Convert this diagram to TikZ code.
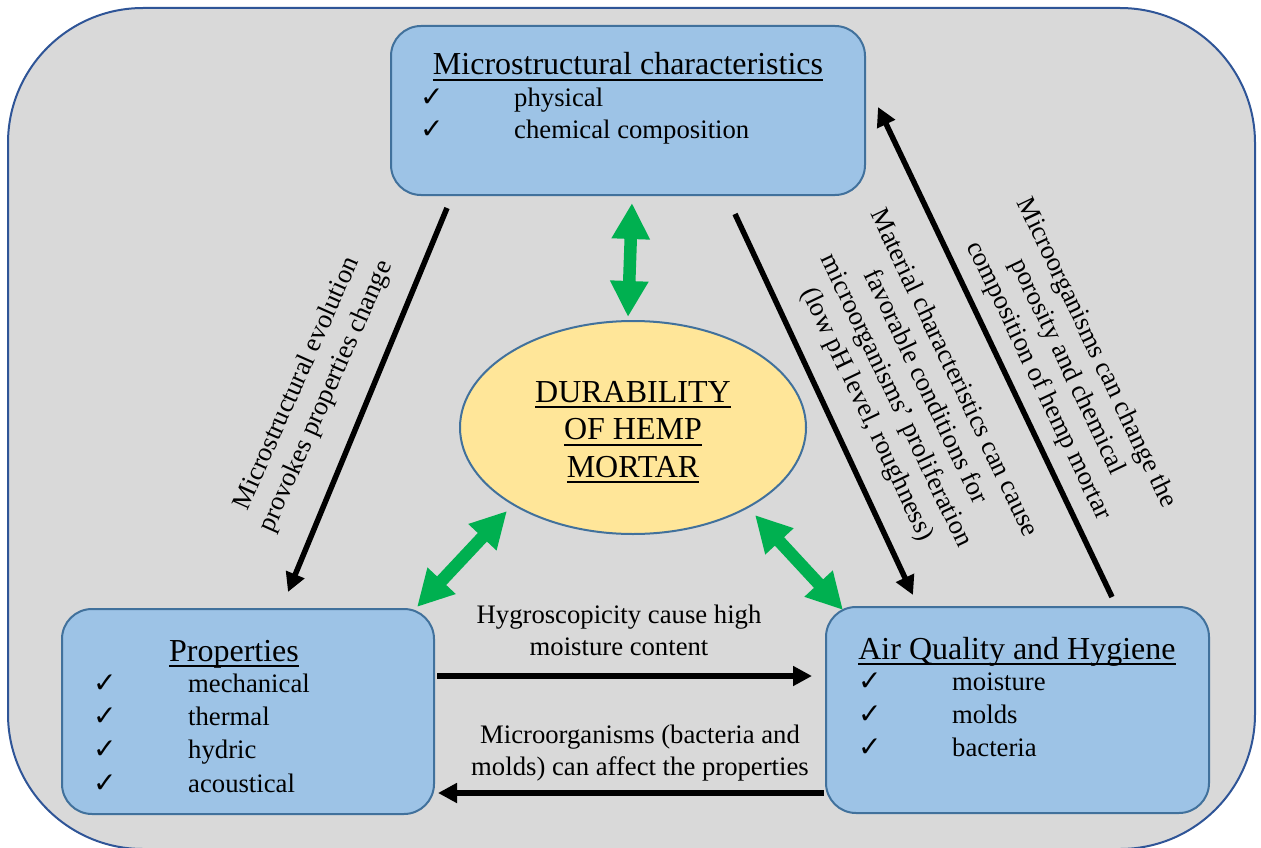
\documentclass[tikz,border=0pt]{standalone}
\usepackage{fontspec}
\setmainfont{Liberation Serif}
\newfontfamily\chkfont{DejaVu Sans}
\usetikzlibrary{arrows.meta,shapes.geometric}
\definecolor{bgc}{HTML}{D9D9D9}
\definecolor{frame}{HTML}{2F5597}
\definecolor{boxfill}{HTML}{9DC3E6}
\definecolor{boxline}{HTML}{41719C}
\definecolor{ellfill}{HTML}{FFE699}
\definecolor{grn}{HTML}{00B050}
\newcommand{\ulx}[1]{\setbox0\hbox{#1}\rlap{\rule[-0.19em]{\wd0}{0.06em}}\box0}
\begin{document}
\begin{tikzpicture}[x=1pt,y=-1pt,
  outer/.style={draw=frame, line width=2pt, fill=bgc, rounded corners=135pt},
  box/.style={draw=boxline, line width=2pt, fill=boxfill, rounded corners=30pt, inner sep=0pt},
  ell/.style={ellipse, draw=boxline, line width=2pt, fill=ellfill, inner sep=0pt},
  txt/.style={font=\fontsize{26.7pt}{32pt}\selectfont, inner sep=0pt},
  head/.style={font=\fontsize{32pt}{37.5pt}\selectfont, inner sep=0pt},
  chk/.style={font=\chkfont\fontsize{28pt}{30pt}\selectfont, inner sep=0pt, anchor=base west},
  item/.style={txt, anchor=base west},
  blk/.style={line width=5.5pt, -{Triangle[length=19pt,width=19pt]}},
  gdbl/.style={draw=grn, line width=12.5pt, {Triangle[length=36pt,width=36pt]}-{Triangle[length=36pt,width=36pt]}}
]
\useasboundingbox (0,0) rectangle (1261,848);
\path[outer] (8,8) rectangle (1255,849);

% boxes
\node[box, minimum width=474pt, minimum height=169pt] (micro) at (628,110.5) {};
\node[box, minimum width=372pt, minimum height=205pt] (prop) at (248,711.5) {};
\node[box, minimum width=383pt, minimum height=206pt] (air) at (1017.5,710) {};
\node[ell, minimum width=346pt, minimum height=213pt] (dur) at (633,427.5) {};

% top box text
\node[head, anchor=base] (microT) at (628,75) {\ulx{Microstructural characteristics}};
\node[chk] (mk1) at (420,107) {✓};
\node[item] (m1) at (514,107) {physical};
\node[chk] (mk2) at (420,139) {✓};
\node[item] (m2) at (514,139) {chemical composition};

% properties text
\node[head, anchor=base] (propT) at (234,661) {\ulx{Properties}};
\node[chk] (pk1) at (93,692) {✓};
\node[item] (p1) at (188,692) {mechanical};
\node[chk] (pk2) at (93,725) {✓};
\node[item] (p2) at (188,725) {thermal};
\node[chk] (pk3) at (93,758) {✓};
\node[item] (p3) at (188,758) {hydric};
\node[chk] (pk4) at (93,792) {✓};
\node[item] (p4) at (188,792) {acoustical};

% air quality text
\node[head, anchor=base] (airT) at (1017,659) {\ulx{Air Quality and Hygiene}};
\node[chk] (ak1) at (858,690) {✓};
\node[item] (a1) at (952,690) {moisture};
\node[chk] (ak2) at (858,723) {✓};
\node[item] (a2) at (952,723) {molds};
\node[chk] (ak3) at (858,756) {✓};
\node[item] (a3) at (952,756) {bacteria};

% ellipse text (base anchor = last line)
\node[head, anchor=base, align=center] (durT) at (633,477) {\ulx{DURABILITY}\\\ulx{OF HEMP}\\\ulx{MORTAR}};

% connector end points
\coordinate (c1s) at (447,208);
\coordinate (c1e) at (288,592);
\coordinate (c2s) at (735,214);
\coordinate (c2e) at (913,595);
\coordinate (c3s) at (1112,597);
\coordinate (c3e) at (878,107);
\coordinate (c4s) at (437,676);
\coordinate (c4e) at (812,676);
\coordinate (c5s) at (824,793);
\coordinate (c5e) at (438,793);
\coordinate (g1a) at (628,317);
\coordinate (g1b) at (632,203);
\coordinate (g2a) at (417,607);
\coordinate (g2b) at (507,511);
\coordinate (g3a) at (755,515);
\coordinate (g3b) at (843,610);

% black arrows
\draw[blk] (c1s) -- (c1e);
\draw[blk] (c2s) -- (c2e);
\draw[blk] (c3s) -- (c3e);
\draw[blk] (c4s) -- (c4e);
\draw[blk] (c5s) -- (c5e);

% green double arrows
\draw[gdbl] (g1a) -- (g1b);
\draw[gdbl] (g2a) -- (g2b);
\draw[gdbl] (g3a) -- (g3b);

% labels
\node[txt, align=center, rotate=66] (lab1) at (312,390) {Microstructural evolution\\provokes properties change};
\node[txt, align=center, rotate=-64.5] (lab2) at (910,394) {Material characteristics can cause\\favorable conditions for\\microorganisms’ proliferation\\(low pH level, roughness)};
\node[txt, align=center, rotate=-64.5] (lab3) at (1067,367) {Microorganisms can change the\\porosity and chemical\\composition of hemp mortar};
\node[txt, align=center, anchor=base] (lab4) at (619,655) {Hygroscopicity cause high\\moisture content};
\node[txt, align=center, anchor=base] (lab5) at (640,775) {Microorganisms (bacteria and\\molds) can affect the properties};
\end{tikzpicture}
\end{document}
